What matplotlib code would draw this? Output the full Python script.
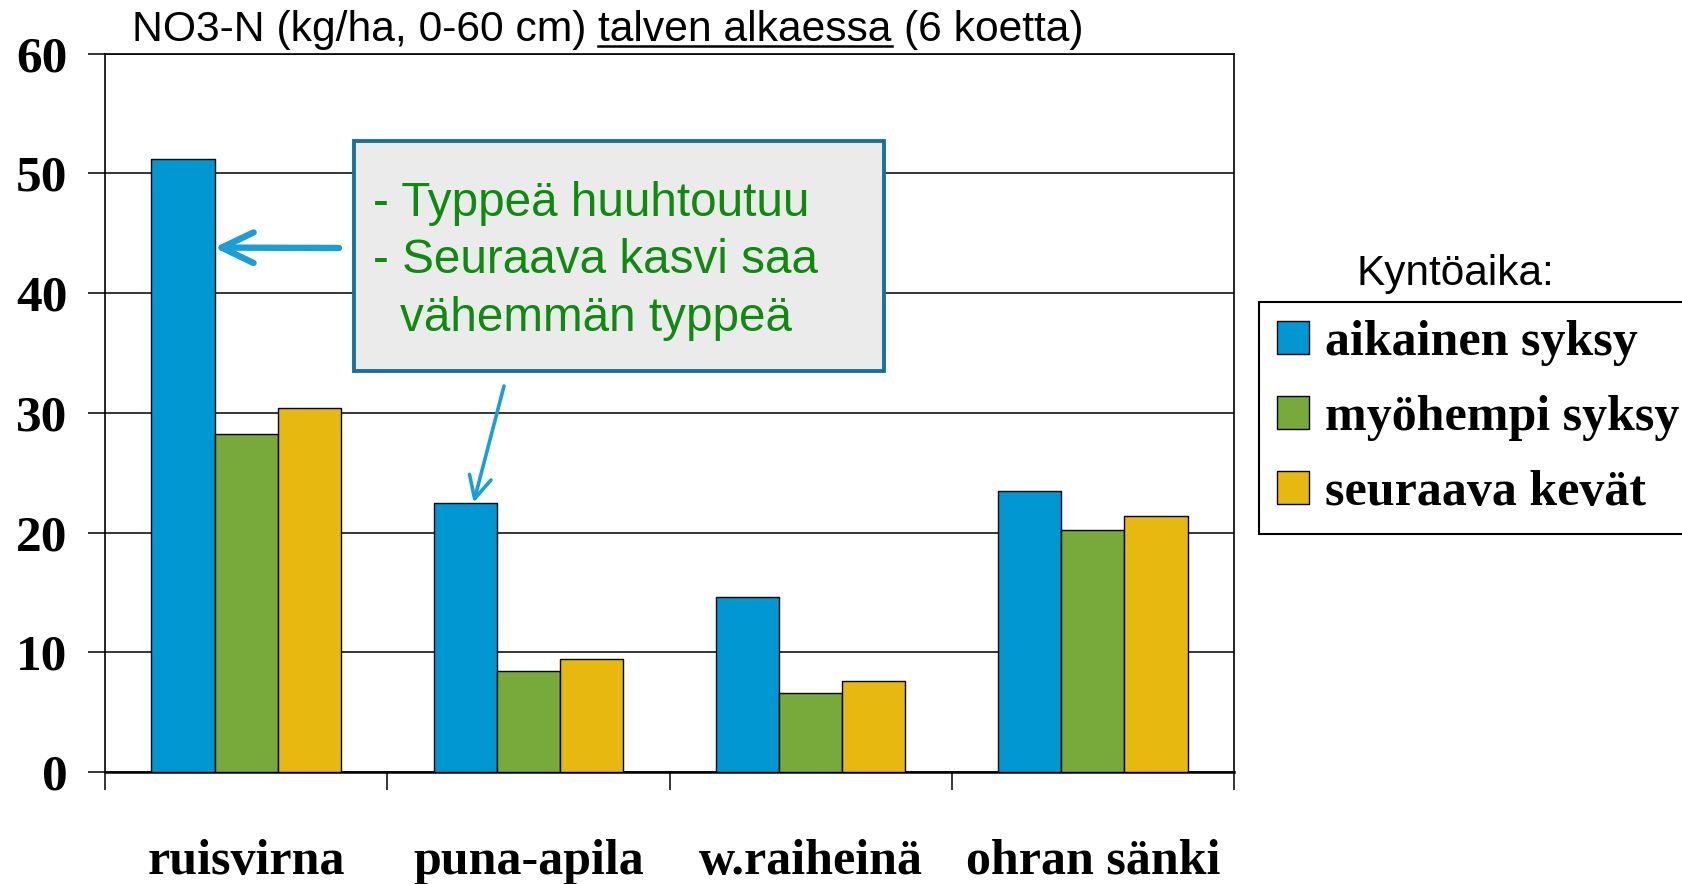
import numpy as np
import matplotlib
matplotlib.use("Agg")
import matplotlib.pyplot as plt
from matplotlib.patches import Rectangle
from matplotlib.font_manager import FontProperties
from matplotlib.lines import Line2D

categories = ["ruisvirna", "puna-apila", "w.raiheinä", "ohran sänki"]
series_names = ["aikainen syksy", "myöhempi syksy", "seuraava kevät"]
aikainen = [51.2, 22.5, 14.6, 23.5]
myohempi = [28.2, 8.4, 6.6, 20.2]
kevat = [30.4, 9.4, 7.6, 21.4]
yticks = [0, 10, 20, 30, 40, 50, 60]
colors = ["#0097D3", "#78A93B", "#E7B80F"]

W, H = 1682, 884
fig = plt.figure(figsize=(W / 100, H / 100), dpi=100)
ax = fig.add_axes([105 / W, 1 - 772 / H, (1234 - 105) / W, (772 - 53.6) / H])

ytick_font = FontProperties(family="Liberation Serif", weight="bold", size=37)
xlab_font = FontProperties(family="Liberation Serif", weight="bold", size=36)
leg_font = FontProperties(family="Liberation Serif", weight="bold", size=36)
sans = "Liberation Sans"

x = np.arange(len(categories))
bw = 0.224
series = [aikainen, myohempi, kevat]
for i, (vals, c, nm) in enumerate(zip(series, colors, series_names)):
    ax.bar(x + (i - 1) * bw, vals, width=bw, color=c, edgecolor="black",
           linewidth=1.0, label=nm, zorder=3)

ax.set_xlim(-0.5, len(categories) - 0.5)
ax.set_ylim(0, 60)
ax.set_yticks(yticks)
ax.set_yticklabels([str(v) for v in yticks], fontproperties=ytick_font)
ax.yaxis.grid(True, color="black", linewidth=1.1, zorder=0)
ax.set_axisbelow(True)
ax.tick_params(axis="y", which="major", direction="out", length=12, width=1.1, pad=15)

ax.set_xticks(np.arange(-0.5, len(categories), 1.0))
ax.set_xticklabels([])
ax.tick_params(axis="x", which="major", direction="out", length=13, width=1.1)
ax.set_xticks(x, minor=True)
ax.set_xticklabels(categories, minor=True, fontproperties=xlab_font)
ax.tick_params(axis="x", which="minor", length=0, pad=48)

for s in ax.spines.values():
    s.set_linewidth(1.2)
    s.set_color("black")
ax.spines["bottom"].set_linewidth(1.8)

# Legend
leg = ax.legend(loc="upper left", bbox_to_anchor=(1259 / W, 1 - 302 / H),
                bbox_transform=fig.transFigure, prop=leg_font, frameon=True,
                fancybox=False, edgecolor="black", framealpha=1,
                borderaxespad=0, borderpad=0.36, handlelength=0.64,
                handleheight=0.64, handletextpad=0.32, labelspacing=0.58)
leg.get_frame().set_linewidth(1.5)
fig.text(1357 / W, 1 - 285 / H, "Kyntöaika:", family=sans, fontsize=30.5,
         va="baseline", ha="left")

# Title with underlined part
fig.canvas.draw()
r = fig.canvas.get_renderer()
tsize = 30.7
ybase = 1 - 41 / H
def w_of(s):
    t = fig.text(0, 0, s, family=sans, fontsize=tsize)
    wd = t.get_window_extent(r).width
    t.remove()
    return wd
space = w_of("a a") - w_of("aa")
xpix = 132
parts = ["NO3-N (kg/ha, 0-60 cm)", "talven alkaessa", "(6 koetta)"]
under = None
for k, p in enumerate(parts):
    t = fig.text(xpix / W, ybase, p, family=sans, fontsize=tsize, va="baseline", ha="left")
    bb = t.get_window_extent(r)
    if k == 1:
        under = (bb.x0, bb.x1)
    xpix = bb.x1 + space
fig.add_artist(Line2D([under[0] / W, under[1] / W], [1 - 46 / H, 1 - 46 / H],
                      transform=fig.transFigure, color="black", linewidth=1.8))

# Annotation box
bx0, bx1, by0, by1 = 354, 884, 140.5, 371
fig.add_artist(Rectangle((bx0 / W, 1 - by1 / H), (bx1 - bx0) / W, (by1 - by0) / H,
                         transform=fig.transFigure, facecolor="#EBEBEB",
                         edgecolor="#17729A", linewidth=2.8, zorder=5))
green = "#0E8A0E"
gsize = 34.3
fig.text(373 / W, 1 - 216 / H, "- Typpeä huuhtoutuu", family=sans, fontsize=gsize,
         color=green, va="baseline", zorder=6)
fig.text(373 / W, 1 - 273 / H, "- Seuraava kasvi saa", family=sans, fontsize=gsize,
         color=green, va="baseline", zorder=6)
fig.text(400 / W, 1 - 331 / H, "vähemmän typpeä", family=sans, fontsize=gsize,
         color=green, va="baseline", zorder=6)

# Arrows
arrow_c = "#1A9ED8"
ax.annotate("", xy=(x[0] - bw + 0.111, 43.8), xycoords="data",
            xytext=(339 / W, 1 - 248 / H), textcoords="figure fraction",
            arrowprops=dict(arrowstyle="->,head_length=1.15,head_width=0.55",
                            mutation_scale=20, lw=4.6, color=arrow_c,
                            shrinkA=0, shrinkB=0), zorder=7, annotation_clip=False)
ax.annotate("", xy=(x[1] - bw + 0.03, aikainen[1]), xycoords="data",
            xytext=(504 / W, 1 - 386 / H), textcoords="figure fraction",
            arrowprops=dict(arrowstyle="->,head_length=0.8,head_width=0.4",
                            mutation_scale=20, lw=2.6, color=arrow_c,
                            shrinkA=0, shrinkB=0), zorder=7, annotation_clip=False)

fig.savefig("out.png", dpi=100)
